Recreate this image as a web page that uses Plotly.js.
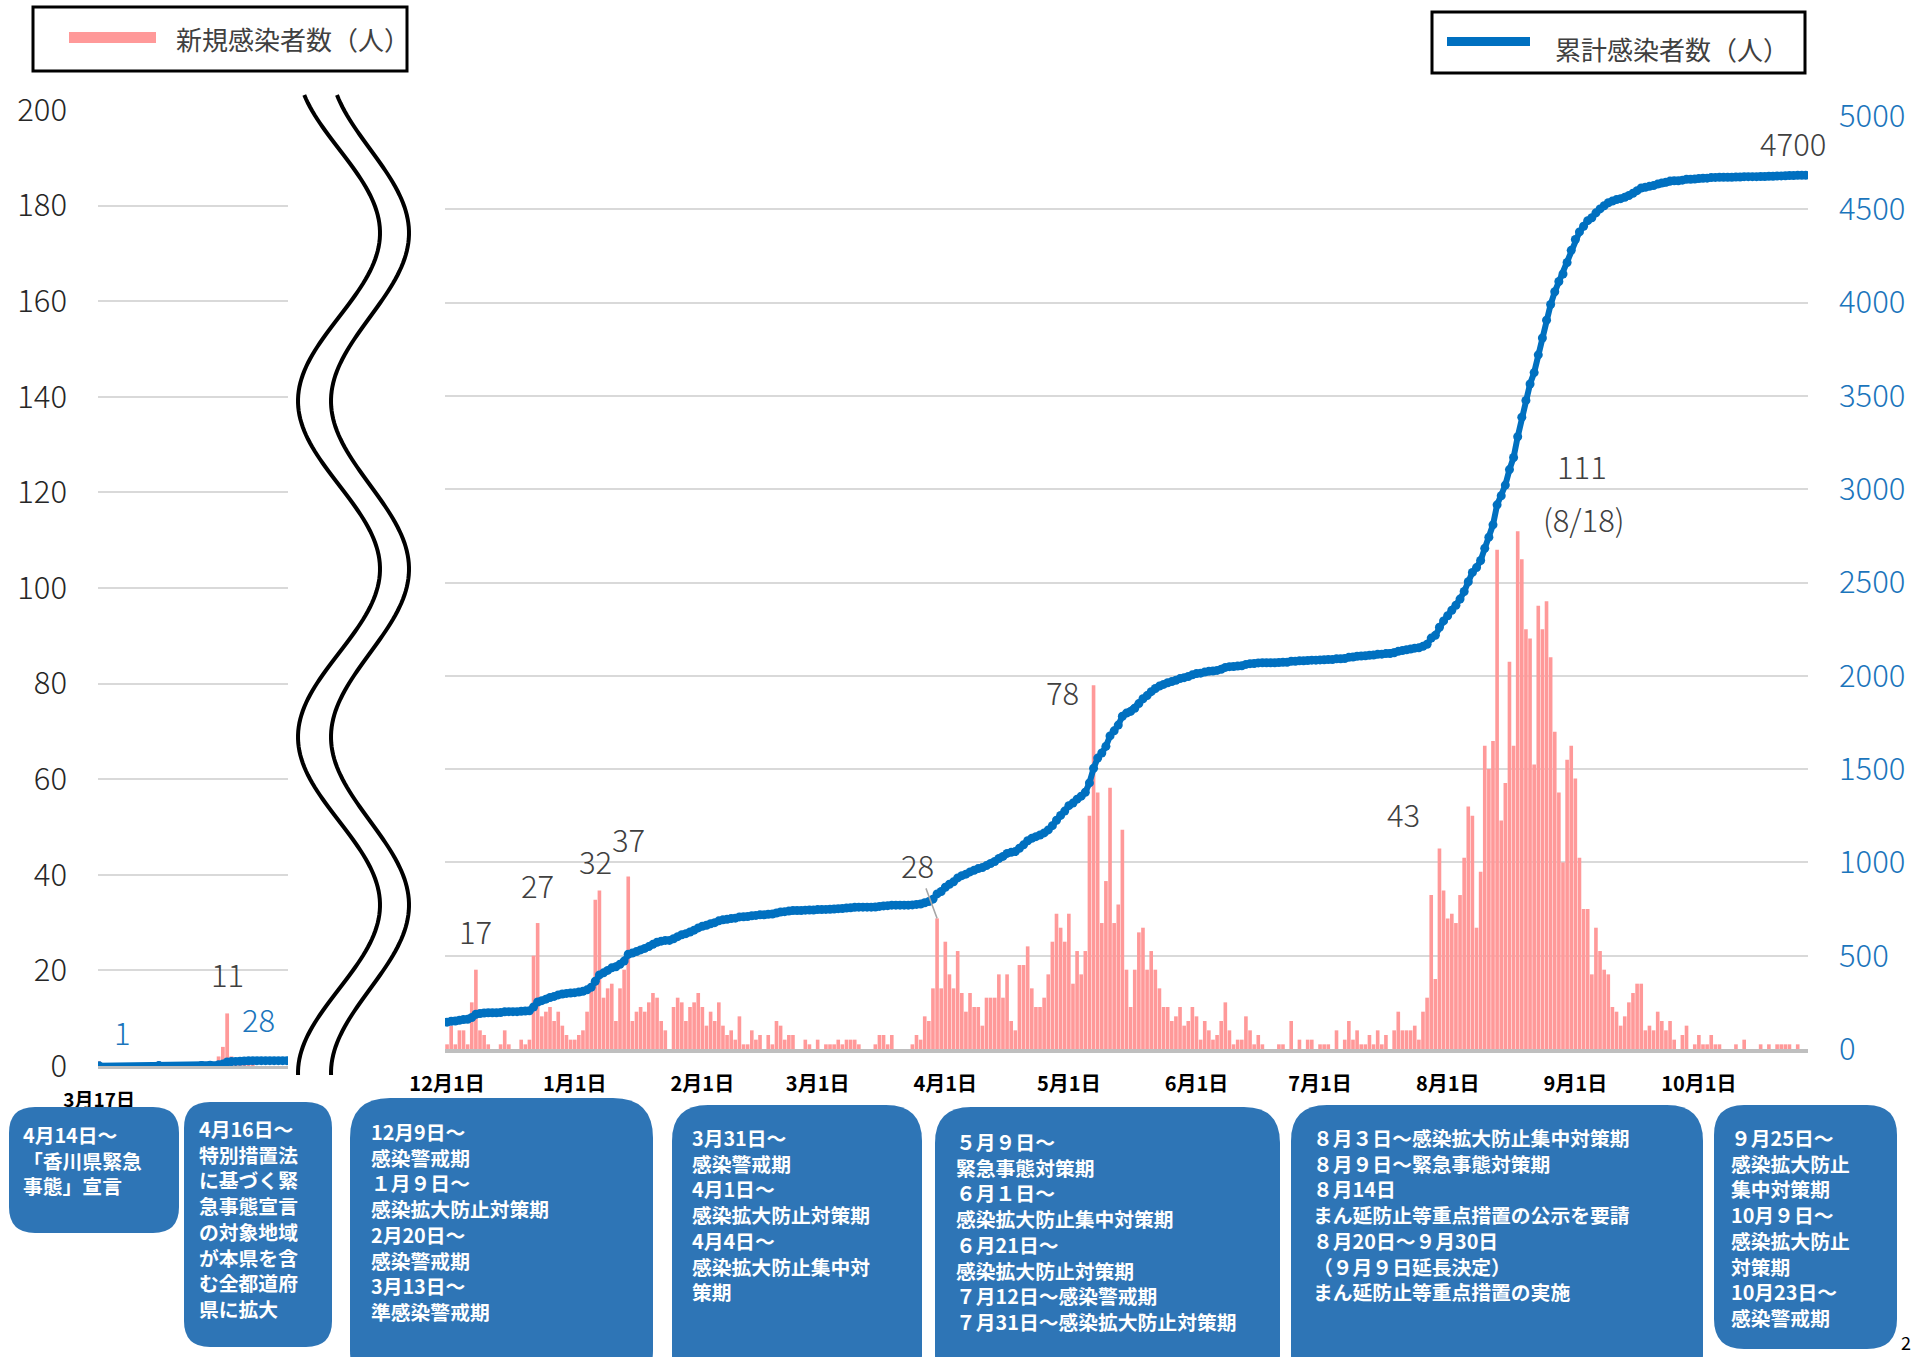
<!DOCTYPE html>
<html><head><meta charset="utf-8">
<script src="https://cdn.plot.ly/plotly-3.0.1.min.js"></script>
<style>html,body{margin:0;padding:0;background:#fff;}#chart{width:1914px;height:1357px;}</style>
</head><body><div id="chart"></div>
<script>
const W = 1914, H = 1357;

// ---------- data: right panel, daily new cases from 2020-12-01 ----------
const startDate = '2020-12-01';
const dailyNew = [
 1,5,1,4,4,1,10,17,4,3,
 1,0,0,1,4,1,0,0,2,1,
 2,20,27,7,8,9,6,8,5,3,
 2,2,3,4,8,14,32,34,11,13,
 14,6,13,17,37,6,8,9,8,10,
 12,11,6,4,0,9,11,10,6,9,
 10,12,9,5,8,6,10,5,3,4,
 2,7,1,1,4,2,3,0,3,1,
 6,5,2,3,3,0,0,2,1,0,
 2,0,1,1,1,2,1,2,2,2,
 1,0,0,0,1,3,3,1,3,0,
 0,0,0,1,3,2,7,6,13,28,
 13,23,16,13,21,12,8,12,9,9,
 5,11,11,11,16,11,16,6,4,18,
 18,22,13,9,9,11,16,23,29,26,
 23,29,14,21,16,21,50,78,55,27,
 36,56,27,31,47,17,9,17,25,26,
 17,21,17,13,9,9,6,7,9,5,
 6,9,7,2,6,4,2,3,6,10,
 4,1,2,2,7,4,1,3,1,0,
 0,0,1,1,0,6,0,2,0,2,
 2,0,1,1,1,0,4,0,2,6,
 2,4,1,1,3,1,4,1,3,0,
 4,8,4,4,4,5,2,8,11,33,
 15,43,34,28,29,27,33,41,52,50,
 26,38,65,60,66,107,49,57,83,65,
 111,105,90,88,61,95,90,96,84,68,
 55,40,62,65,58,41,30,30,16,26,
 21,17,16,9,8,5,7,10,12,14,
 14,4,5,4,8,6,4,6,2,0,
 3,5,0,1,3,1,1,3,1,1,
 0,0,0,1,0,2,0,0,0,1,
 0,1,0,1,1,1,1,0,1,0,0
];
const cumulativeBefore = 143;   // total up to 2020-11-30 (start of the blue line)
const monthTickDates  = ['2020-12-01','2021-01-01','2021-02-01','2021-03-01','2021-04-01','2021-05-01','2021-06-01','2021-07-01','2021-08-01','2021-09-01','2021-10-01'];
const monthTickLabels = ['12月1日','1月1日','2月1日','3月1日','4月1日','5月1日','6月1日','7月1日','8月1日','9月1日','10月1日'];

// ---------- data: left panel (spring 2020) ----------
const earlyDates = ['2020-03-17','2020-03-31','2020-04-10','2020-04-12','2020-04-14','2020-04-15','2020-04-16','2020-04-17','2020-04-18','2020-04-19','2020-04-20','2020-04-21','2020-04-22','2020-04-23','2020-04-24','2020-04-25','2020-04-26','2020-04-27','2020-04-28','2020-04-29','2020-04-30'];
const earlyNew = [1,1,1,1,2,4,11,2,1,1,1,1,1,0,0,0,0,0,0,0,0];
const earlyCum = [1,2,3,4,6,10,21,23,24,25,26,27,28,28,28,28,28,28,28,28,28];
const earlyTickDates = ['2020-03-17'];
const earlyTickLabels = ['3月17日'];

// ---------- labels ----------
const peakLabels = [ // [day index, value, text, xshift, yshift]
 [7, 17, '17', 0, 39], [22, 27, '27', 0, 39], [36, 32, '32', 0, 39], [44, 37, '37', 0, 38],
 [157, 78, '78', -31, -6], [241, 43, '43', -36, 35], [260, 111, '111', 64, 66], [260, 111, '(8/18)', 66, 13]
];
const arrowLabel = [119, 28, '28'];
const finalLabel = '4700';

const boxes = [
 {x0:9, y0:1107, x1:179, y1:1233, r:26, tx:22, ty:1119, lines:['4月14日～','「香川県緊急','事態」宣言']},
 {x0:184, y0:1102, x1:332, y1:1347, r:26, tx:198, ty:1113, lines:['4月16日～','特別措置法','に基づく緊','急事態宣言','の対象地域','が本県を含','む全都道府','県に拡大']},
 {x0:350, y0:1098, x1:653, y1:1390, r:40, tx:370, ty:1116, lines:['12月9日～','感染警戒期','１月９日～','感染拡大防止対策期','2月20日～','感染警戒期','3月13日～','準感染警戒期']},
 {x0:672, y0:1105, x1:922, y1:1390, r:36, tx:691, ty:1122, lines:['3月31日～','感染警戒期','4月1日～','感染拡大防止対策期','4月4日～','感染拡大防止集中対','策期']},
 {x0:935, y0:1107, x1:1280, y1:1390, r:36, tx:955, ty:1126, lines:['５月９日～','緊急事態対策期','６月１日～','感染拡大防止集中対策期','６月21日～','感染拡大防止対策期','７月12日～感染警戒期','７月31日～感染拡大防止対策期']},
 {x0:1291, y0:1105, x1:1703, y1:1390, r:36, tx:1312, ty:1122, lines:['８月３日～感染拡大防止集中対策期','８月９日～緊急事態対策期','８月14日','まん延防止等重点措置の公示を要請','８月20日～９月30日','（９月９日延長決定）','まん延防止等重点措置の実施']},
 {x0:1714, y0:1105, x1:1897, y1:1349, r:30, tx:1730, ty:1122, lines:['９月25日～','感染拡大防止','集中対策期','10月９日～','感染拡大防止','対策期','10月23日～','感染警戒期']}
];

// ---------- helpers ----------
const FONT = '"Noto Sans CJK JP", "Noto Sans", sans-serif';
const X = p => p / W, Y = p => 1 - p / H;
function dayStr(i){ const d = new Date(Date.UTC(2020,11,1) + i*86400000); return d.toISOString().slice(0,10); }
const dates = dailyNew.map((_, i) => dayStr(i));
const cumulative = []; dailyNew.reduce((s, v, i) => (cumulative[i] = s + v), cumulativeBefore);

function rr(x0,y0,x1,y1,r){
 return `M ${X(x0+r)},${Y(y0)} L ${X(x1-r)},${Y(y0)} Q ${X(x1)},${Y(y0)} ${X(x1)},${Y(y0+r)} L ${X(x1)},${Y(y1-r)} Q ${X(x1)},${Y(y1)} ${X(x1-r)},${Y(y1)} L ${X(x0+r)},${Y(y1)} Q ${X(x0)},${Y(y1)} ${X(x0)},${Y(y1-r)} L ${X(x0)},${Y(y0+r)} Q ${X(x0)},${Y(y0)} ${X(x0+r)},${Y(y0)} Z`;
}
function wave(c, A){
 let s = '';
 for (let y = 95; y <= 1077; y += 4){
  const x = c + A*Math.cos(2*Math.PI*(y-233)/336);
  s += (s ? ' L ' : 'M ') + X(x) + ',' + Y(y);
 }
 return s;
}

const BLUE = '#0070C0', PINK = '#FF9999';
const traces = [
 {type:'bar', x: earlyDates, y: earlyNew, xaxis:'x', yaxis:'y', marker:{color:PINK}, hoverinfo:'skip'},
 {type:'bar', x: dates, y: dailyNew, xaxis:'x2', yaxis:'y3', marker:{color:PINK}, hoverinfo:'skip'},
 {type:'scatter', mode:'lines+markers', x: earlyDates, y: earlyCum, xaxis:'x', yaxis:'y2', line:{color:BLUE, width:6}, marker:{color:BLUE, size:9}, hoverinfo:'skip'},
 {type:'scatter', mode:'lines+markers', x: dates, y: cumulative, xaxis:'x2', yaxis:'y4', line:{color:BLUE, width:6}, marker:{color:BLUE, size:9}, hoverinfo:'skip'}
];

const ann = [];
const lblFont = {family:FONT, size:31, color:'#404040', weight:300};
peakLabels.forEach(([d, v, t, xs, ys]) => ann.push({xref:'x2', yref:'y3', x: dates[d], y: v, text: t, showarrow:false, xshift: xs, yshift: ys, font: lblFont}));
ann.push({xref:'x2', yref:'y3', x: dates[arrowLabel[0]], y: arrowLabel[1], text: arrowLabel[2], showarrow:true, arrowhead:0, arrowwidth:1.5, arrowcolor:'#A6A6A6', ax:-20, ay:-54, standoff:0, font: lblFont});
ann.push({xref:'x2', yref:'y4', x: dates[dates.length-1], y: cumulative[cumulative.length-1], text: finalLabel, showarrow:false, xshift:-13, yshift:33, font: lblFont});
// left panel labels
const blueLbl = {family:FONT, size:31, color:'#1B75BC', weight:300};
ann.push({xref:'x', yref:'y2', x: earlyDates[0], y: earlyCum[0], text: String(earlyCum[0]), showarrow:false, xshift:23, yshift:34, font: blueLbl});
ann.push({xref:'x', yref:'y2', x: earlyDates[12], y: earlyCum[12], text: String(earlyCum[12]), showarrow:false, xshift:6, yshift:42, font: blueLbl});
ann.push({xref:'x', yref:'y', x: earlyDates[6], y: earlyNew[6], text: String(earlyNew[6]), showarrow:false, xshift:0, yshift:40, font: lblFont});
// legends
ann.push({xref:'paper', yref:'paper', x: X(174), y: Y(39), xanchor:'left', yanchor:'middle', text:'新規感染者数（人）', showarrow:false, font:{family:FONT, size:26, color:'#404040'}});
ann.push({xref:'paper', yref:'paper', x: X(1553), y: Y(49), xanchor:'left', yanchor:'middle', text:'累計感染者数（人）', showarrow:false, font:{family:FONT, size:26, color:'#404040'}});
// boxes text (one multi-line block per box)
boxes.forEach(b => ann.push({xref:'paper', yref:'paper', x: X(b.tx), y: Y(b.ty), xanchor:'left', yanchor:'top', align:'left', borderpad:0,
  text: b.lines.join('<br>'), showarrow:false, font:{family:FONT, size:19.8, color:'#FFFFFF', weight:'bold'}}));
ann.push({xref:'paper', yref:'paper', x: X(1913), y: Y(1342), xanchor:'right', yanchor:'middle', text:'2', showarrow:false, font:{family:FONT, size:18, color:'#000'}});

const shapes = [
 {type:'rect', xref:'paper', yref:'paper', x0:X(33), x1:X(407), y0:Y(7), y1:Y(71), line:{color:'#000', width:3}},
 {type:'rect', xref:'paper', yref:'paper', x0:X(69), x1:X(156), y0:Y(32), y1:Y(43), line:{width:0}, fillcolor:PINK},
 {type:'rect', xref:'paper', yref:'paper', x0:X(1432), x1:X(1805), y0:Y(12), y1:Y(73), line:{color:'#000', width:3}},
 {type:'rect', xref:'paper', yref:'paper', x0:X(1447), x1:X(1530), y0:Y(37), y1:Y(46), line:{width:0}, fillcolor:BLUE},
 {type:'path', xref:'paper', yref:'paper', path: wave(339, 41), line:{color:'#000', width:4}},
 {type:'path', xref:'paper', yref:'paper', path: wave(370, 39), line:{color:'#000', width:4}}
];
boxes.forEach(b => shapes.push({type:'path', xref:'paper', yref:'paper', path: rr(b.x0,b.y0,b.x1,b.y1,b.r), fillcolor:'#2E75B6', line:{width:0}}));

const layout = {
 width:W, height:H, margin:{l:0, r:0, t:0, b:0}, paper_bgcolor:'#fff', plot_bgcolor:'rgba(0,0,0,0)',
 showlegend:false, bargap:0.12, font:{family:FONT},
 xaxis:{domain:[X(98), X(288)], type:'date', range:['2020-03-16 18:00','2020-04-30 06:00'], tickvals: earlyTickDates, ticktext: earlyTickLabels,
   tickfont:{family:FONT, size:19, color:'#000', weight:'bold'}, showgrid:false, zeroline:false, showline:true, linecolor:'#BFBFBF', linewidth:3, ticks:'', ticklabelstandoff:15, anchor:'y', fixedrange:true},
 yaxis:{domain:[Y(1066), Y(110)], range:[0,200], dtick:20, tick0:0, showgrid:true, gridcolor:'#D9D9D9', gridwidth:2, zeroline:false, showline:false,
   tickfont:{family:FONT, size:31, color:'#262626', weight:300}, ticks:'', ticklabelstandoff:30, anchor:'x', fixedrange:true},
 yaxis2:{overlaying:'y', anchor:'x', range:[0,5000], visible:false, fixedrange:true},
 xaxis2:{domain:[X(445), X(1808)], type:'date', range:['2020-11-30 12:00','2021-10-27 12:00'], tickvals: monthTickDates, ticktext: monthTickLabels,
   tickfont:{family:FONT, size:20, color:'#000', weight:'bold'}, showgrid:false, zeroline:false, showline:true, linecolor:'#BFBFBF', linewidth:4, ticks:'', ticklabelstandoff:14, anchor:'y3', fixedrange:true},
 yaxis3:{domain:[Y(1049), Y(116)], range:[0,200], dtick:20, tick0:0, showgrid:true, gridcolor:'#D9D9D9', gridwidth:2, zeroline:false, showline:false, showticklabels:false, ticks:'', anchor:'x2', fixedrange:true},
 yaxis4:{overlaying:'y3', anchor:'x2', side:'right', range:[0,5000], dtick:500, tick0:0, showgrid:false, zeroline:false, showline:false,
   tickfont:{family:FONT, size:31, color:'#1B75BC', weight:300}, ticks:'', ticklabelstandoff:30, fixedrange:true},
 annotations: ann, shapes: shapes
};
Plotly.newPlot('chart', traces, layout, {displayModeBar:false, staticPlot:true});
</script></body></html>
